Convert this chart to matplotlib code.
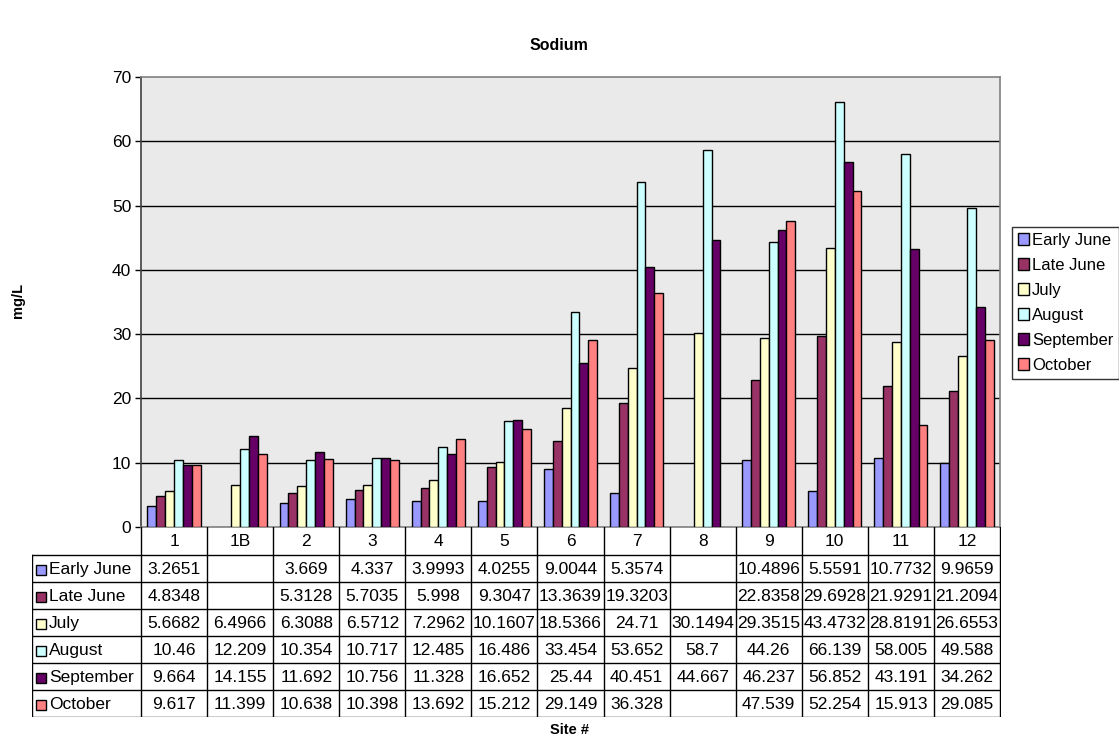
import numpy as np
import matplotlib
matplotlib.use("Agg")
import matplotlib.pyplot as plt
from matplotlib.patches import Rectangle

plt.rcParams['font.family'] = ['Liberation Sans', 'DejaVu Sans']

nan = np.nan
sites = ['1', '1B', '2', '3', '4', '5', '6', '7', '8', '9', '10', '11', '12']
series_names = ['Early June', 'Late June', 'July', 'August', 'September', 'October']
early_june = [3.2651, nan, 3.669, 4.337, 3.9993, 4.0255, 9.0044, 5.3574, nan, 10.4896, 5.5591, 10.7732, 9.9659]
late_june = [4.8348, nan, 5.3128, 5.7035, 5.998, 9.3047, 13.3639, 19.3203, nan, 22.8358, 29.6928, 21.9291, 21.2094]
july = [5.6682, 6.4966, 6.3088, 6.5712, 7.2962, 10.1607, 18.5366, 24.71, 30.1494, 29.3515, 43.4732, 28.8191, 26.6553]
august = [10.46, 12.209, 10.354, 10.717, 12.485, 16.486, 33.454, 53.652, 58.7, 44.26, 66.139, 58.005, 49.588]
september = [9.664, 14.155, 11.692, 10.756, 11.328, 16.652, 25.44, 40.451, 44.667, 46.237, 56.852, 43.191, 34.262]
october = [9.617, 11.399, 10.638, 10.398, 13.692, 15.212, 29.149, 36.328, nan, 47.539, 52.254, 15.913, 29.085]
all_series = [early_june, late_june, july, august, september, october]
colors = ['#9999FF', '#993366', '#FFFFCC', '#CCFFFF', '#660066', '#FF8080']

fs = 12.5
W, H = 1119, 741
fig = plt.figure(figsize=(W / 100, H / 100), dpi=100)

# plot area in pixel coords
px_l, px_r, px_t, px_b = 141, 1000, 77, 527
ax = fig.add_axes([px_l / W, (H - px_b) / H, (px_r - px_l) / W, (px_b - px_t) / H])
ax.set_facecolor('#EAEAEA')

n = len(sites)
x = np.arange(n)
bw = 0.134
for k, (vals, c) in enumerate(zip(all_series, colors)):
    off = (k - 2.5) * bw
    ax.bar(x + off, vals, width=bw, color=c, edgecolor='black', linewidth=1.0,
           label=series_names[k], zorder=3)

ax.set_xlim(-0.5, n - 0.5)
ax.set_ylim(0, 70)
ax.set_yticks(range(0, 71, 10))
ax.set_xticks([])
ax.tick_params(axis='y', length=4, width=1, labelsize=fs, direction='out', pad=3)
for y in range(10, 70, 10):
    ax.axhline(y, color='black', linewidth=1.0, zorder=1)
ax.spines['top'].set_color('#808080')
ax.spines['right'].set_color('#808080')
ax.spines['bottom'].set_color('#808080')
ax.spines['left'].set_color('#404040')
for s in ax.spines.values():
    s.set_linewidth(1.2)

leg = ax.legend(loc='upper left', bbox_to_anchor=(1012 / W, (H - 227) / H),
                bbox_transform=fig.transFigure, frameon=True, fancybox=False,
                fontsize=12, handlelength=0.65, handleheight=0.65, handletextpad=0.2,
                borderpad=0.35, labelspacing=0.6, borderaxespad=0)
leg.get_frame().set_edgecolor('black')
leg.get_frame().set_linewidth(1.0)

# data table below the plot, drawn in pixel coordinates
tl, tb = 32, 717
tax = fig.add_axes([tl / W, (H - tb) / H, (px_r - tl + 1) / W, (tb - px_b) / H])
tax.set_xlim(tl, px_r + 1)
tax.set_ylim(tb, px_b)
tax.axis('off')
colw = (px_r - px_l) / n
head_h = 28
row_h = (tb - px_b - head_h) / len(series_names)
lw = 1.0
# header row
for i in range(n + 1):
    xx = px_l + i * colw
    tax.plot([xx, xx], [px_b, tb], color='black', lw=lw)
for i, s in enumerate(sites):
    tax.text(px_l + (i + 0.5) * colw, px_b + head_h / 2 + 1, s, ha='center', va='center', fontsize=fs)
tax.plot([tl, tl], [px_b + head_h, tb], color='black', lw=lw)
tax.plot([tl, px_r], [px_b + head_h, px_b + head_h], color='black', lw=lw)
for r in range(len(series_names)):
    y0 = px_b + head_h + r * row_h
    y1 = y0 + row_h
    tax.plot([tl, px_r], [y1, y1], color='black', lw=lw)
    yc = (y0 + y1) / 2 + 1
    tax.add_patch(Rectangle((tl + 4, yc - 5), 10, 10, facecolor=colors[r], edgecolor='black', lw=1.0))
    tax.text(tl + 17, yc, series_names[r], ha='left', va='center', fontsize=fs)
    for i, v in enumerate(all_series[r]):
        if np.isnan(v):
            continue
        tax.text(px_l + (i + 0.5) * colw, yc, str(v), ha='center', va='center', fontsize=fs)

fig.text(559 / W, 1 - 46 / H, 'Sodium', ha='center', va='center', fontsize=11.5, fontweight='bold')
fig.text(18 / W, 1 - 300 / H, 'mg/L', ha='center', va='center', rotation=90, fontsize=10.5, fontweight='bold')
fig.text(570 / W, 1 - 730 / H, 'Site #', ha='center', va='center', fontsize=10.5, fontweight='bold')

fig.savefig('out.png', dpi=100)
